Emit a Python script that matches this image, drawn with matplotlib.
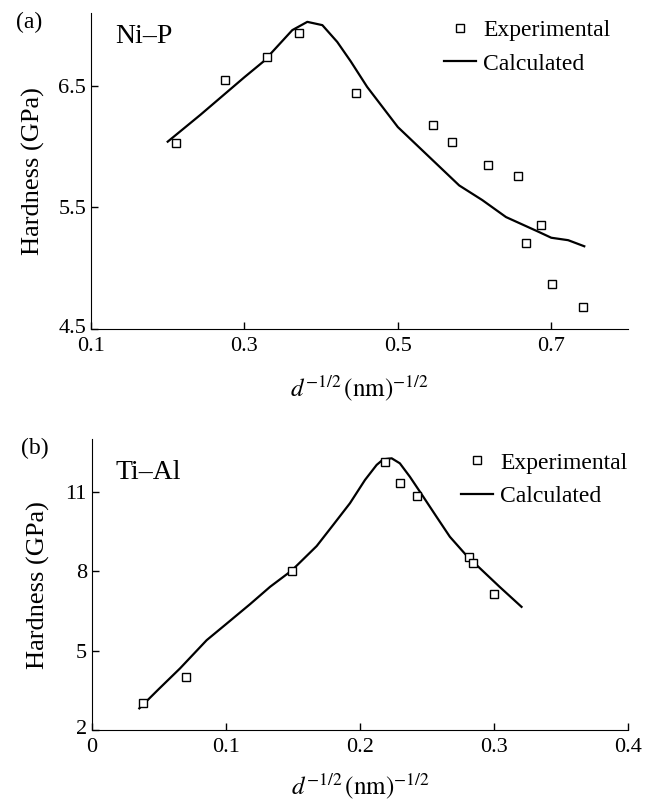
import numpy as np
from matplotlib import pyplot as plt
import matplotlib.transforms as mtransforms

plt.rcParams['font.family'] = ['Liberation Serif', 'DejaVu Serif']
plt.rcParams['mathtext.fontset'] = 'stix'

# (a) Ni-P
nip_exp_x = [0.211, 0.275, 0.330, 0.371, 0.446, 0.546, 0.570, 0.617, 0.656, 0.686, 0.667, 0.701, 0.741]
nip_exp_y = [6.03, 6.55, 6.735, 6.935, 6.44, 6.18, 6.035, 5.85, 5.76, 5.355, 5.21, 4.87, 4.68]
nip_calc_x = [0.200, 0.2425, 0.300, 0.325, 0.3624, 0.382, 0.4016, 0.421, 0.4386, 0.460, 0.500,
              0.540, 0.580, 0.610, 0.641, 0.683, 0.700, 0.722, 0.743]
nip_calc_y = [6.04, 6.26, 6.57, 6.70, 6.957, 7.025, 6.998, 6.86, 6.70, 6.49, 6.16,
              5.92, 5.68, 5.56, 5.42, 5.30, 5.25, 5.23, 5.18]

# (b) Ti-Al
tial_exp_x = [0.038, 0.070, 0.149, 0.2186, 0.2297, 0.2426, 0.2814, 0.2844, 0.300]
tial_exp_y = [3.01, 4.02, 8.03, 12.15, 11.36, 10.85, 8.53, 8.33, 7.13]
tial_calc_x = [0.0355, 0.050, 0.0658, 0.0857, 0.100, 0.118, 0.133, 0.149, 0.1677, 0.180,
               0.1925, 0.2037, 0.2124, 0.2173, 0.2236, 0.2297, 0.2372, 0.2471, 0.257,
               0.267, 0.2794, 0.304, 0.3204]
tial_calc_y = [2.82, 3.55, 4.33, 5.40, 6.00, 6.76, 7.42, 8.03, 8.96, 9.76,
               10.58, 11.46, 12.03, 12.24, 12.28, 12.09, 11.58, 10.83, 10.07,
               9.31, 8.60, 7.42, 6.66]

XLABEL = r'$d^{-1/2}\,(\mathrm{nm})^{-1/2}$'


def style(ax, ylab_x, xlab_y):
    for s in ('top', 'right'):
        ax.spines[s].set_visible(False)
    ax.tick_params(direction='in', length=5, labelsize=16, width=1)
    ax.tick_params(axis='x', pad=6)
    ax.set_ylabel('Hardness (GPa)', fontsize=19)
    ax.set_xlabel(XLABEL, fontsize=18)
    ax.yaxis.set_label_coords(ylab_x, 0.5)
    ax.xaxis.set_label_coords(0.5, xlab_y)
    ax.xaxis.label.set_va('top')
    # lift the lowest y label a little, off the first x label
    lab = ax.get_yticklabels()[0]
    lab.set_transform(lab.get_transform() +
                      mtransforms.ScaledTranslation(0, 3 / 100, ax.figure.dpi_scale_trans))


def panel(ax, ex, ey, cx, cy, name, name_y, legend_anchor):
    ax.plot(cx, cy, color='black', lw=1.6, label='Calculated')
    ax.plot(ex, ey, ls='none', marker='s', ms=6, mfc='white', mec='black', mew=1.0,
            label='Experimental')
    h, l = ax.get_legend_handles_labels()
    ax.legend(h[::-1], l[::-1], loc='upper right', bbox_to_anchor=legend_anchor,
              frameon=False, fontsize=17, handlelength=1.36, handletextpad=0.3,
              labelspacing=0.5, borderaxespad=0)
    ax.text(0.045, name_y, name, transform=ax.transAxes, fontsize=20, va='center')


fig = plt.figure(figsize=(6.56, 8.01), dpi=100)
ax1 = fig.add_axes([0.1387, 0.5893, 0.8186, 0.3948])
ax2 = fig.add_axes([0.1398, 0.0886, 0.8180, 0.3630])

panel(ax1, nip_exp_x, nip_exp_y, nip_calc_x, nip_calc_y, 'Ni–P', 0.926, (0.985, 1.008))
ax1.set_xlim(0.1, 0.8)
ax1.set_ylim(4.5, 7.1)
ax1.set_xticks([0.1, 0.3, 0.5, 0.7])
ax1.set_yticks([4.5, 5.5, 6.5])
style(ax1, -0.086, -0.14)

panel(ax2, tial_exp_x, tial_exp_y, tial_calc_x, tial_calc_y, 'Ti–Al', 0.887, (1.016, 0.988))
ax2.set_xlim(0, 0.4)
ax2.set_ylim(2, 13)
ax2.set_xticks([0, 0.1, 0.2, 0.3, 0.4])
ax2.set_xticklabels(['0', '0.1', '0.2', '0.3', '0.4'])
ax2.set_yticks([2, 5, 8, 11])
style(ax2, -0.078, -0.143)

fig.text(16 / 656, 1 - 22 / 801, '(a)', fontsize=17, va='center')
fig.text(21 / 656, 1 - 448 / 801, '(b)', fontsize=17, va='center')

fig.savefig('out.png', dpi=100)
